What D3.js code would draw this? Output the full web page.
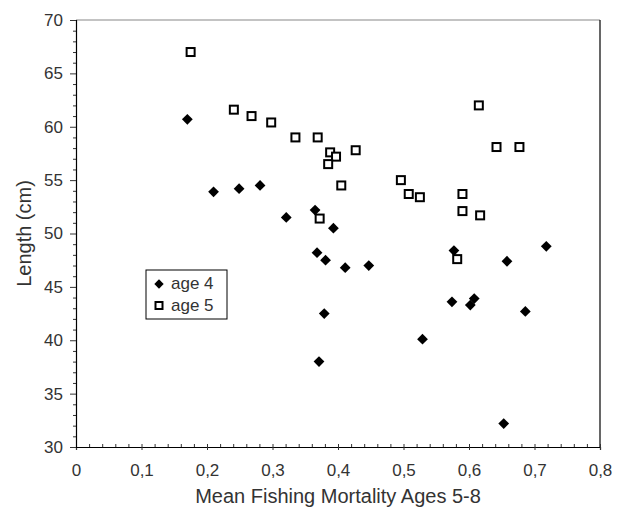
<!DOCTYPE html>
<html>
<head>
<meta charset="utf-8">
<script src="https://cdn.jsdelivr.net/npm/d3@7"></script>
<style>
  body { margin: 0; background: #fff; }
  text { font-family: "Liberation Sans", Arial, sans-serif; fill: #333; }
</style>
</head>
<body>
<div id="chart"></div>
<script>
// Data
const age4X = [0.170, 0.210, 0.249, 0.281, 0.321, 0.365, 0.393, 0.368, 0.381, 0.411, 0.379, 0.371, 0.447, 0.577, 0.574, 0.602, 0.608, 0.529, 0.658, 0.718, 0.686, 0.653];
const age4Y = [60.7, 53.9, 54.2, 54.5, 51.5, 52.2, 50.5, 48.2, 47.5, 46.8, 42.5, 38.0, 47.0, 48.4, 43.6, 43.3, 43.9, 40.1, 47.4, 48.8, 42.7, 32.2];
const age5X = [0.175, 0.241, 0.268, 0.298, 0.335, 0.369, 0.388, 0.397, 0.385, 0.405, 0.427, 0.372, 0.615, 0.642, 0.677, 0.496, 0.508, 0.525, 0.590, 0.590, 0.617, 0.582];
const age5Y = [67.0, 61.6, 61.0, 60.4, 59.0, 59.0, 57.6, 57.2, 56.5, 54.5, 57.8, 51.4, 62.0, 58.1, 58.1, 55.0, 53.7, 53.4, 53.7, 52.1, 51.7, 47.6];
const xTicks = [0, 0.1, 0.2, 0.3, 0.4, 0.5, 0.6, 0.7, 0.8];
const yTicks = [30, 35, 40, 45, 50, 55, 60, 65, 70];
const seriesNames = ['age 4', 'age 5'];

const width = 621, height = 510;
const margin = {top: 20, right: 21, bottom: 63, left: 76};

const svg = d3.select('#chart')
    .append('svg')
    .attr('width', width)
    .attr('height', height);

const x = d3.scaleLinear()
    .domain([0, 0.8])
    .range([margin.left, width - margin.right]);
const y = d3.scaleLinear()
    .domain([30, 70])
    .range([height - margin.bottom, margin.top]);

// frame: top (grey) and right (black)
svg.append('line')
    .attr('x1', x(0)).attr('x2', x(0.8))
    .attr('y1', y(70)).attr('y2', y(70))
    .attr('stroke', '#888').attr('stroke-width', 1.2);
svg.append('line')
    .attr('x1', x(0.8)).attr('x2', x(0.8))
    .attr('y1', y(70)).attr('y2', y(30))
    .attr('stroke', '#000').attr('stroke-width', 1.2);

// minor ticks
const xMinor = d3.range(0, 0.8001, 0.02).filter(v => Math.abs(v * 10 - Math.round(v * 10)) > 1e-6);
const yMinor = d3.range(30, 70.001, 1).filter(v => v % 5 !== 0);

svg.append('g')
    .attr('transform', `translate(0,${y(30)})`)
    .call(d3.axisTop(x).tickValues(xMinor).tickSize(3).tickFormat(''))
    .call(g => g.select('.domain').remove())
    .selectAll('line').attr('stroke', '#333');
svg.append('g')
    .attr('transform', `translate(${x(0)},0)`)
    .call(d3.axisLeft(y).tickValues(yMinor).tickSize(3).tickFormat(''))
    .call(g => g.select('.domain').remove())
    .selectAll('line').attr('stroke', '#333');

// X axis
const xAxis = svg.append('g')
    .attr('transform', `translate(0,${y(30)})`)
    .call(d3.axisBottom(x).tickValues(xTicks).tickSizeOuter(0).tickSize(3)
        .tickFormat(d => d === 0 ? '0' : d3.format('.1f')(d).replace('.', ',')));
xAxis.select('.domain').attr('stroke', '#000').attr('stroke-width', 1.2);
xAxis.selectAll('.tick line').attr('y1', -3).attr('y2', 3).attr('stroke', '#333');
xAxis.selectAll('.tick text')
    .attr('y', 29)
    .attr('dy', null)
    .attr('font-size', '17px')
    .attr('font-family', null)
    .style('fill', '#333');

// Y axis
const yAxis = svg.append('g')
    .attr('transform', `translate(${x(0)},0)`)
    .call(d3.axisLeft(y).tickValues(yTicks).tickSizeOuter(0).tickSize(6));
yAxis.select('.domain').attr('stroke', '#000').attr('stroke-width', 1.2);
yAxis.selectAll('.tick line').attr('stroke', '#333');
yAxis.selectAll('.tick text')
    .attr('x', -13)
    .attr('font-size', '17px')
    .attr('font-family', null)
    .style('fill', '#333');

// axis titles
svg.append('text')
    .attr('x', (x(0) + x(0.8)) / 2)
    .attr('y', 503)
    .attr('text-anchor', 'middle')
    .attr('font-size', '20px')
    .text('Mean Fishing Mortality Ages 5-8');
svg.append('text')
    .attr('transform', `translate(31,${(y(30) + y(70)) / 2}) rotate(-90)`)
    .attr('text-anchor', 'middle')
    .attr('font-size', '20px')
    .text('Length (cm)');

// points
const diamond = d3.symbol().type(d3.symbolSquare).size(58);
const age4 = age4X.map((v, i) => ({x: v, y: age4Y[i]}));
const age5 = age5X.map((v, i) => ({x: v, y: age5Y[i]}));

svg.selectAll('.p5')
    .data(age5)
    .enter()
    .append('rect')
    .attr('class', 'p5')
    .attr('x', d => x(d.x) - 4)
    .attr('y', d => y(d.y) - 4)
    .attr('width', 8)
    .attr('height', 8)
    .attr('fill', '#fff')
    .attr('stroke', '#000')
    .attr('stroke-width', 2);

svg.selectAll('.p4')
    .data(age4)
    .enter()
    .append('path')
    .attr('class', 'p4')
    .attr('d', diamond)
    .attr('transform', d => `translate(${x(d.x)},${y(d.y)}) rotate(45)`)
    .attr('fill', '#000');

// legend
const legend = svg.append('g').attr('transform', 'translate(146,270)');
legend.append('rect')
    .attr('width', 81)
    .attr('height', 49)
    .attr('fill', '#fff')
    .attr('stroke', '#000')
    .attr('stroke-width', 1);
legend.append('path')
    .attr('d', d3.symbol().type(d3.symbolSquare).size(44))
    .attr('transform', 'translate(13,14) rotate(45)')
    .attr('fill', '#000');
legend.append('rect')
    .attr('x', 9.5).attr('y', 32)
    .attr('width', 7).attr('height', 7)
    .attr('fill', '#fff')
    .attr('stroke', '#000')
    .attr('stroke-width', 2);
legend.selectAll('.lt')
    .data(seriesNames)
    .enter()
    .append('text')
    .attr('class', 'lt')
    .attr('x', 25)
    .attr('y', (d, i) => 18.5 + i * 22)
    .attr('font-size', '17px')
    .text(d => d);
</script>
</body>
</html>
